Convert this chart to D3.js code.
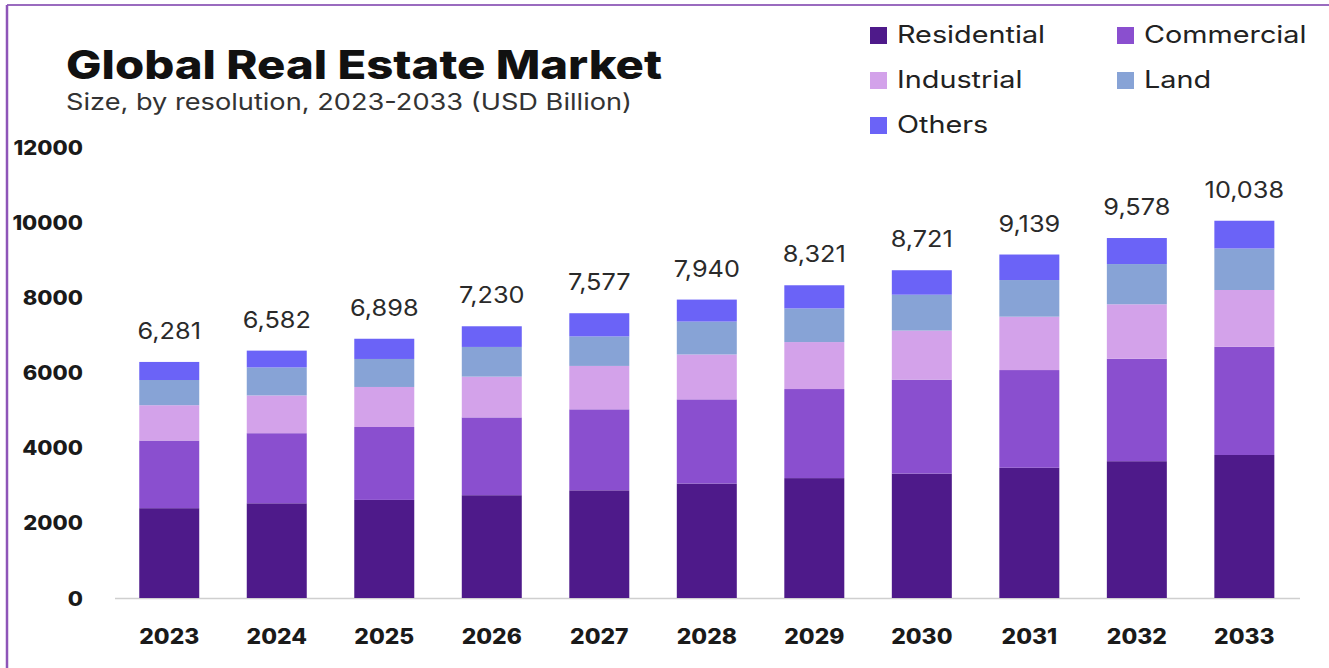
<!DOCTYPE html>
<html>
<head>
<meta charset="utf-8">
<script src="https://cdn.jsdelivr.net/npm/d3@7"></script>
<style>
  html, body { margin: 0; padding: 0; background: #ffffff; }
  svg { display: block; }
  text { font-family: "Inter", "Noto Sans", sans-serif; }
</style>
</head>
<body>
<svg id="chart" width="1329" height="668"></svg>
<script>
const years = ["2023","2024","2025","2026","2027","2028","2029","2030","2031","2032","2033"];
const seriesNames = ["Residential","Commercial","Industrial","Land","Others"];
const residential = [2390, 2520, 2610, 2735, 2865, 3045, 3190, 3310, 3465, 3640, 3805];
const commercial  = [1800, 1865, 1940, 2070, 2155, 2240, 2370, 2500, 2600, 2725, 2880];
const industrial  = [ 940, 1005, 1065, 1085, 1155, 1195, 1250, 1305, 1420, 1450, 1510];
const land        = [ 670,  745,  745,  790,  785,  875,  895,  955,  975, 1070, 1105];
const others      = [ 481,  447,  538,  550,  617,  585,  616,  651,  679,  693,  738];
const totals      = [6281, 6582, 6898, 7230, 7577, 7940, 8321, 8721, 9139, 9578, 10038];
const yTicks      = [0, 2000, 4000, 6000, 8000, 10000, 12000];
const colors      = ["#4e1a8a", "#8a4fcf", "#d3a2ea", "#87a3d6", "#6b63f7"];

const svg = d3.select("#chart");

// widen text to mimic the wider geometric face of the original
function widen(sel, factor) {
  sel.each(function () {
    const w = this.getComputedTextLength();
    d3.select(this).attr("textLength", w * factor).attr("lengthAdjust", "spacingAndGlyphs");
  });
}

// frame
svg.append("line").attr("x1", 7).attr("x2", 1329).attr("y1", 5).attr("y2", 5)
  .attr("stroke", "#9a6bbf").attr("stroke-width", 2);
svg.append("line").attr("x1", 7).attr("x2", 7).attr("y1", 5).attr("y2", 668)
  .attr("stroke", "#8e55b8").attr("stroke-width", 2.5);

// titles
svg.append("text").attr("x", 66).attr("y", 79)
  .attr("font-size", 40).attr("font-weight", 800).attr("fill", "#111")
  .attr("textLength", 596).attr("lengthAdjust", "spacingAndGlyphs")
  .text("Global Real Estate Market");
svg.append("text").attr("x", 66).attr("y", 110)
  .attr("font-size", 23).attr("font-weight", 400).attr("fill", "#333")
  .attr("textLength", 566).attr("lengthAdjust", "spacingAndGlyphs")
  .text("Size, by resolution, 2023-2033 (USD Billion)");

// data table
const table = years.map((yr, i) => ({
  year: yr,
  Residential: residential[i],
  Commercial: commercial[i],
  Industrial: industrial[i],
  Land: land[i],
  Others: others[i],
  total: totals[i]
}));

const x = d3.scaleBand().domain(years).range([115.6, 1298]).paddingInner(0.442).paddingOuter(0.22);
const y = d3.scaleLinear().domain([0, 12000]).range([598, 147]);
const color = d3.scaleOrdinal().domain(seriesNames).range(colors);

// y axis labels
const yAxis = d3.axisLeft(y).tickValues(yTicks).tickSize(0).tickPadding(0).tickFormat(d3.format("d"));
const yg = svg.append("g").attr("transform", "translate(83,0)").call(yAxis);
yg.select(".domain").remove();
yg.selectAll("text").attr("font-size", 20).attr("font-weight", 800).attr("fill", "#1a1a1a")
  .attr("font-family", "Inter, sans-serif").attr("dy", "0.35em");
widen(yg.selectAll("text"), 1.1);

// baseline
svg.append("line").attr("x1", 115).attr("x2", 1300).attr("y1", y(0) + 0.5).attr("y2", y(0) + 0.5)
  .attr("stroke", "#cfcfcf").attr("stroke-width", 1.5);

// stacked bars
const stack = d3.stack().keys(seriesNames);
const layers = stack(table);
svg.append("g").selectAll("g").data(layers).join("g")
  .attr("fill", d => color(d.key))
  .selectAll("rect").data(d => d).join("rect")
  .attr("x", d => x(d.data.year))
  .attr("width", x.bandwidth())
  .attr("y", d => y(d[1]))
  .attr("height", d => y(d[0]) - y(d[1]));

// total labels
const tl = svg.append("g").selectAll("text").data(table).join("text")
  .attr("x", d => x(d.year) + x.bandwidth() / 2)
  .attr("y", d => y(d.total) - 23)
  .attr("text-anchor", "middle")
  .attr("font-size", 23).attr("fill", "#2a2a2a")
  .text(d => d3.format(",")(d.total));
widen(tl, 1.1);

// x axis labels
const xAxis = d3.axisBottom(x).tickSize(0).tickPadding(0);
const xg = svg.append("g").attr("transform", "translate(0,598)").call(xAxis);
xg.select(".domain").remove();
xg.selectAll("text").attr("font-size", 21).attr("font-weight", 800).attr("fill", "#1a1a1a")
  .attr("font-family", "Inter, sans-serif").attr("dy", 0).attr("y", 46);
widen(xg.selectAll("text"), 1.09);

// legend
const legendPos = [[870, 35], [1117, 35], [870, 80], [1117, 80], [870, 125]];
const lg = svg.append("g").selectAll("g").data(seriesNames).join("g")
  .attr("transform", (d, i) => `translate(${legendPos[i][0]},${legendPos[i][1]})`);
lg.append("rect").attr("x", 0).attr("y", -8).attr("width", 17).attr("height", 17)
  .attr("fill", d => color(d));
const lt = lg.append("text").attr("x", 27).attr("y", 0).attr("dy", "0.35em")
  .attr("font-size", 24).attr("fill", "#222")
  .text(d => d);
widen(lt, 1.2);
</script>
</body>
</html>
